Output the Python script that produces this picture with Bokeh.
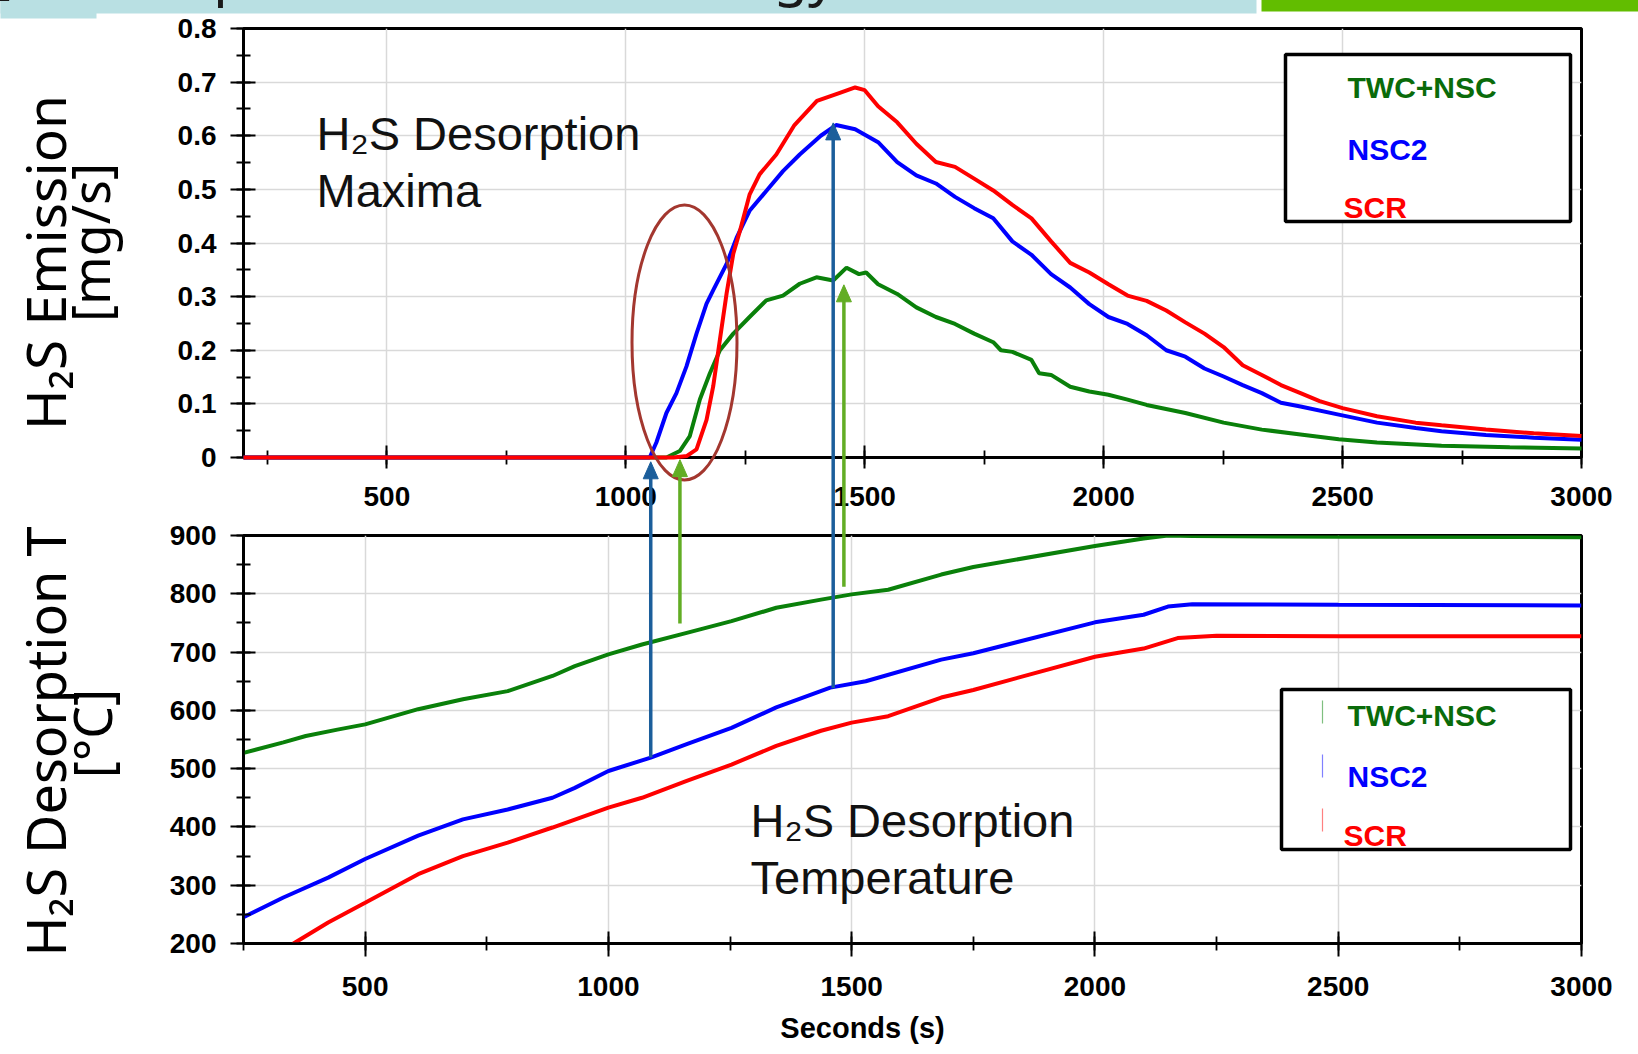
import numpy as np
from bokeh.plotting import figure
from bokeh.models import Range1d, SingleIntervalTicker, CustomJSTickFormatter, Label
from bokeh.core.properties import value
from bokeh.layouts import column
from bokeh.embed import file_html
from bokeh.resources import INLINE

# ---------------- data ----------------
series_names = ["TWC+NSC", "NSC2", "SCR"]
series_colors = ["#0a800a", "#0000ff", "#ff0000"]
legend_text_colors = ["#0a6b0a", "#0000ff", "#ff0000"]

# H2S emission [mg/s] vs seconds
em_twc_s = [200, 1085, 1113, 1134, 1155, 1176, 1197, 1225, 1259, 1294, 1329, 1364, 1399, 1434, 1462,
            1488, 1503, 1528, 1568, 1608, 1649, 1689, 1729, 1769, 1785, 1809, 1849, 1865, 1890, 1930,
            1970, 2010, 2050, 2090, 2171, 2251, 2331, 2412, 2492, 2572, 2707, 2850, 3000]
em_twc_v = [0, 0, 0.012, 0.04, 0.108, 0.157, 0.2, 0.231, 0.262, 0.293, 0.302, 0.324, 0.336, 0.33, 0.354,
            0.342, 0.345, 0.323, 0.305, 0.28, 0.262, 0.249, 0.231, 0.215, 0.2, 0.197, 0.182, 0.157, 0.154, 0.132,
            0.123, 0.117, 0.108, 0.098, 0.083, 0.065, 0.052, 0.043, 0.034, 0.028, 0.022, 0.019, 0.017]

em_nsc2_s = [200, 1045, 1050, 1064, 1085, 1106, 1127, 1148, 1169, 1183, 1211, 1232, 1259, 1294, 1329,
             1364, 1408, 1440, 1480, 1528, 1568, 1608, 1649, 1689, 1729, 1769, 1809, 1849, 1890, 1930,
             1970, 2010, 2050, 2090, 2131, 2171, 2211, 2251, 2291, 2331, 2371, 2412, 2492, 2572, 2653,
             2707, 2800, 2900, 3000]
em_nsc2_v = [0, 0, 0.0, 0.028, 0.083, 0.12, 0.17, 0.231, 0.287, 0.312, 0.361, 0.41, 0.46, 0.497, 0.534,
             0.565, 0.6, 0.62, 0.612, 0.588, 0.551, 0.526, 0.511, 0.486, 0.465, 0.446, 0.403, 0.378, 0.342, 0.317,
             0.286, 0.262, 0.249, 0.228, 0.2, 0.188, 0.166, 0.151, 0.135, 0.12, 0.102, 0.095, 0.08, 0.065, 0.055,
             0.049, 0.042, 0.037, 0.033]

em_scr_s = [200, 1100, 1128, 1148, 1169, 1183, 1197, 1211, 1225, 1239, 1259, 1280, 1315, 1353, 1400,
            1448, 1480, 1500, 1528, 1568, 1608, 1649, 1689, 1729, 1769, 1809, 1849, 1890, 1930, 1970,
            2010, 2050, 2090, 2131, 2171, 2211, 2251, 2291, 2331, 2371, 2412, 2452, 2500, 2572, 2653,
            2707, 2800, 2900, 3000]
em_scr_v = [0, 0, 0.003, 0.015, 0.07, 0.133, 0.22, 0.306, 0.38, 0.423, 0.49, 0.528, 0.565, 0.62, 0.665,
            0.68, 0.69, 0.685, 0.655, 0.625, 0.585, 0.551, 0.542, 0.52, 0.498, 0.471, 0.446, 0.403, 0.363, 0.345,
            0.323, 0.302, 0.292, 0.274, 0.252, 0.231, 0.206, 0.172, 0.154, 0.135, 0.12, 0.105, 0.092, 0.077, 0.065,
            0.06, 0.052, 0.045, 0.04]

# H2S desorption temperature [degC] vs seconds
t_twc_s = [250, 332, 378, 443, 500, 609, 701, 793, 885, 931, 1000, 1069, 1161, 1253, 1345, 1437,
           1500, 1575, 1684, 1750, 2000, 2100, 2150, 2200, 2500, 3000]
t_twc_v = [527, 545, 556, 567, 576, 602, 619, 633, 659, 676, 696, 713, 733, 753, 776, 790,
           799, 807, 833, 846, 882, 895, 900, 899, 898, 897]

t_nsc2_s = [250, 332, 424, 500, 609, 701, 793, 885, 931, 1000, 1087, 1161, 1253, 1345, 1456, 1529,
            1684, 1750, 2000, 2100, 2150, 2200, 2500, 3000]
t_nsc2_v = [245, 279, 313, 345, 385, 413, 430, 450, 467, 496, 519, 542, 570, 605, 639, 650,
            687, 698, 751, 764, 778, 782, 781, 780]

t_scr_s = [351, 424, 500, 609, 701, 793, 885, 1000, 1069, 1161, 1253, 1345, 1437, 1500, 1575, 1684,
           1750, 2000, 2100, 2170, 2250, 2500, 3000]
t_scr_v = [199, 236, 270, 319, 350, 373, 399, 433, 450, 479, 507, 539, 565, 579, 590, 622,
           635, 692, 706, 724, 728, 727, 727]

# arrows linking temperature curves to emission curves (bottom-plot seconds)
arrow_s = [1087, 1147, 1462, 1484]
arrow_T_start = [519, 749, 638, 812]
arrow_v_tip = [-0.008, -0.004, 0.624, 0.322]
arrow_colors = ["#1b5e9b", "#62ad24", "#1b5e9b", "#62ad24"]

# ---------------- layout geometry (page pixels) ----------------
PAGE_W = 1638
TOP_H, BOT_H = 520, 534
FR_LEFT, FR_RIGHT = 243, 1581
T_X0, T_X1, T_Y0, T_Y1 = 200, 3000, 0.0, 0.8
B_X0, B_X1, B_Y0, B_Y1 = 250, 3000, 200, 900
T_TOP, T_BOT = 28, 457       # frame top/bottom of upper plot on the page
B_TOP, B_BOT = 535, 943      # frame top/bottom of lower plot on the page
FR_W = FR_RIGHT - FR_LEFT


def fx_t(px):
    return T_X0 + (px - FR_LEFT) / FR_W * (T_X1 - T_X0)


def fy_t(py):
    return T_Y0 + (T_BOT - py) / (T_BOT - T_TOP) * (T_Y1 - T_Y0)


def fx_b(px):
    return B_X0 + (px - FR_LEFT) / FR_W * (B_X1 - B_X0)


def fy_b(py):
    return B_Y0 + (B_BOT - py) / (B_BOT - B_TOP) * (B_Y1 - B_Y0)


def bot_to_top_s(s):
    return T_X0 + (s - B_X0) / (B_X1 - B_X0) * (T_X1 - T_X0)


TICK_FONT = "Liberation Sans"


def style(p, x_tick_out, x_standoff):
    p.background_fill_color = "white"
    p.border_fill_color = "white"
    p.outline_line_color = "black"
    p.outline_line_width = 3
    for ax in (p.xaxis[0], p.yaxis[0]):
        ax.axis_line_color = "black"
        ax.axis_line_width = 2.5
        ax.major_tick_line_color = "black"
        ax.major_tick_line_width = 2
        ax.minor_tick_line_color = "black"
        ax.minor_tick_line_width = 1.8
        ax.major_tick_in = 12
        ax.minor_tick_in = 7
        ax.minor_tick_out = 7
        ax.major_label_text_font = TICK_FONT
        ax.major_label_text_font_style = "bold"
        ax.major_label_text_font_size = "28px"
        ax.major_label_text_color = "black"
    p.xaxis[0].major_tick_out = x_tick_out
    p.xaxis[0].major_label_standoff = x_standoff
    p.yaxis[0].major_tick_out = 13
    p.yaxis[0].major_label_standoff = 14
    for g in (p.xgrid[0], p.ygrid[0]):
        g.grid_line_color = "#d9d9d9"
        g.grid_line_width = 1.5


def free_text(p, x, y, txt, font, size, color="black", bold=False, angle=0.0,
              align="center", baseline="middle"):
    p.text(x=[x], y=[y], text=[txt], angle=angle, text_font=value(font),
           text_font_size=size, text_color=color,
           text_font_style="bold" if bold else "normal",
           text_align=align, text_baseline=baseline, level="overlay")


# ---------------- upper plot: emission ----------------
p1 = figure(width=PAGE_W, height=TOP_H, output_backend="svg", toolbar_location=None,
            x_range=Range1d(T_X0, T_X1), y_range=Range1d(T_Y0, T_Y1),
            min_border_left=FR_LEFT, min_border_right=PAGE_W - FR_RIGHT,
            min_border_top=T_TOP, min_border_bottom=TOP_H - T_BOT)
p1.xaxis[0].ticker = SingleIntervalTicker(interval=500, num_minor_ticks=2)
p1.yaxis[0].ticker = SingleIntervalTicker(interval=0.1, num_minor_ticks=2)
p1.yaxis[0].formatter = CustomJSTickFormatter(code="return Math.abs(tick) < 1e-9 ? '0' : tick.toFixed(1);")
style(p1, 11, 18)

# header strip of the slide (cut-off title bar; only the bottom of the title shows)
p1.quad(left=[fx_t(0), fx_t(0), fx_t(1261)], right=[fx_t(1256), fx_t(96), fx_t(1640)],
        top=[fy_t(-2)] * 3, bottom=[fy_t(13), fy_t(18), fy_t(11)],
        fill_color=["#b9e0e3", "#b9e0e3", "#62bd00"], line_color=None, level="overlay")
free_text(p1, fx_t(836), fy_t(-29), "H₂S Desorption Test Methodology", "Noto Sans", "56px",
          color="#1a1a1a", align="right", baseline="alphabetic")

for xs, ys, c in [(em_twc_s, em_twc_v, series_colors[0]),
                  (em_nsc2_s, em_nsc2_v, series_colors[1]),
                  (em_scr_s, em_scr_v, series_colors[2])]:
    p1.line(xs, ys, line_color=c, line_width=4, level="overlay")

# legend box (upper)
p1.quad(left=[fx_t(1285)], right=[fx_t(1570)], top=[fy_t(54)], bottom=[fy_t(221)],
        fill_color="white", line_color="black", line_width=3.5)
for name, col, py, pxl in zip(series_names, legend_text_colors, [87, 149, 207], [1347, 1347, 1343]):
    p1.add_layout(Label(x=fx_t(pxl), y=fy_t(py), text=name, text_color=col, text_font=TICK_FONT,
                        text_font_style="bold", text_font_size="30px", text_baseline="middle"))

# annotation text
p1.add_layout(Label(x=fx_t(316), y=fy_t(133), text="H₂S Desorption", text_font="Liberation Sans",
                    text_font_size="47px", text_color="#111111", text_baseline="middle"))
p1.add_layout(Label(x=fx_t(316), y=fy_t(190), text="Maxima", text_font="Liberation Sans",
                    text_font_size="47px", text_color="#111111", text_baseline="middle"))

# y axis titles (upper) - unclipped text glyphs in the left border
free_text(p1, fx_t(44), fy_t(262), "H₂S Emission", "Noto Sans", "55px", angle=np.pi / 2)
free_text(p1, fx_t(89), fy_t(242), "[mg/s]", "Noto Sans", "52px", angle=np.pi / 2)

# ellipse marking onset
p1.ellipse(x=[fx_t(684)], y=[fy_t(342)], width=105, height=275, width_units="screen",
           height_units="screen", fill_color=None, line_color="#a3372f", line_width=3, level="overlay")

# arrows (upper parts): shaft + head
px_per_s_t = FR_W / (T_X1 - T_X0)
px_per_v_t = (T_BOT - T_TOP) / (T_Y1 - T_Y0)
HEAD_LEN, HEAD_HALF_W = 17, 7.5
for s, v, c in zip(arrow_s, arrow_v_tip, arrow_colors):
    xs = bot_to_top_s(s)
    vbase = v - HEAD_LEN / px_per_v_t
    p1.segment(x0=[xs], y0=[vbase + 2 / px_per_v_t], x1=[xs], y1=[-1.0],
               line_color=c, line_width=3.5, level="overlay")
    dx = HEAD_HALF_W / px_per_s_t
    p1.patch(x=[xs, xs - dx, xs + dx], y=[v, vbase, vbase], fill_color=c, line_color=c,
             line_width=1, level="overlay")

# ---------------- lower plot: temperature ----------------
p2 = figure(width=PAGE_W, height=BOT_H, output_backend="svg", toolbar_location=None,
            x_range=Range1d(B_X0, B_X1), y_range=Range1d(B_Y0, B_Y1),
            min_border_left=FR_LEFT, min_border_right=PAGE_W - FR_RIGHT,
            min_border_top=B_TOP - TOP_H,
            min_border_bottom=TOP_H + BOT_H - B_BOT)
p2.xaxis[0].ticker = SingleIntervalTicker(interval=500, num_minor_ticks=2)
p2.yaxis[0].ticker = SingleIntervalTicker(interval=100, num_minor_ticks=2)
style(p2, 13, 20)

for xs, ys, c in [(t_twc_s, t_twc_v, series_colors[0]),
                  (t_nsc2_s, t_nsc2_v, series_colors[1]),
                  (t_scr_s, t_scr_v, series_colors[2])]:
    p2.line(xs, ys, line_color=c, line_width=4)

# arrows (lower parts, shafts only, continuing upward beyond the frame)
for s, t0, c in zip(arrow_s, arrow_T_start, arrow_colors):
    p2.segment(x0=[s], y0=[t0], x1=[s], y1=[1300], line_color=c, line_width=3.5, level="overlay")

# legend box (lower)
p2.quad(left=[fx_b(1281)], right=[fx_b(1570)], top=[fy_b(689)], bottom=[fy_b(849)],
        fill_color="white", line_color="black", line_width=3.5)
mark_colors = ["#7fbf7f", "#8080ff", "#ff8080"]
for name, col, mcol, py, pxl, m0, m1 in zip(series_names, legend_text_colors, mark_colors,
                                            [715, 776, 835], [1347, 1347, 1343],
                                            [700, 754, 808], [723, 777, 831]):
    p2.add_layout(Label(x=fx_b(pxl), y=fy_b(py), text=name, text_color=col, text_font=TICK_FONT,
                        text_font_style="bold", text_font_size="30px", text_baseline="middle"))
    p2.segment(x0=[fx_b(1322)], y0=[fy_b(m0)], x1=[fx_b(1322)], y1=[fy_b(m1)],
               line_color=mcol, line_width=1.2)

p2.add_layout(Label(x=fx_b(750), y=fy_b(820), text="H₂S Desorption", text_font="Liberation Sans",
                    text_font_size="47px", text_color="#111111", text_baseline="middle"))
p2.add_layout(Label(x=fx_b(750), y=fy_b(877), text="Temperature", text_font="Liberation Sans",
                    text_font_size="47px", text_color="#111111", text_baseline="middle"))

free_text(p2, fx_b(44), fy_b(741), "H₂S Desorption T", "Noto Sans", "54px", angle=np.pi / 2)
free_text(p2, fx_b(91), fy_b(733), "[°C]", "Noto Sans", "52px", angle=np.pi / 2)
free_text(p2, fx_b(862), fy_b(1027), "Seconds (s)", TICK_FONT, "29px", bold=True)

layout = column(p1, p2, spacing=0)
open("out.html", "w").write(file_html(layout, INLINE))
